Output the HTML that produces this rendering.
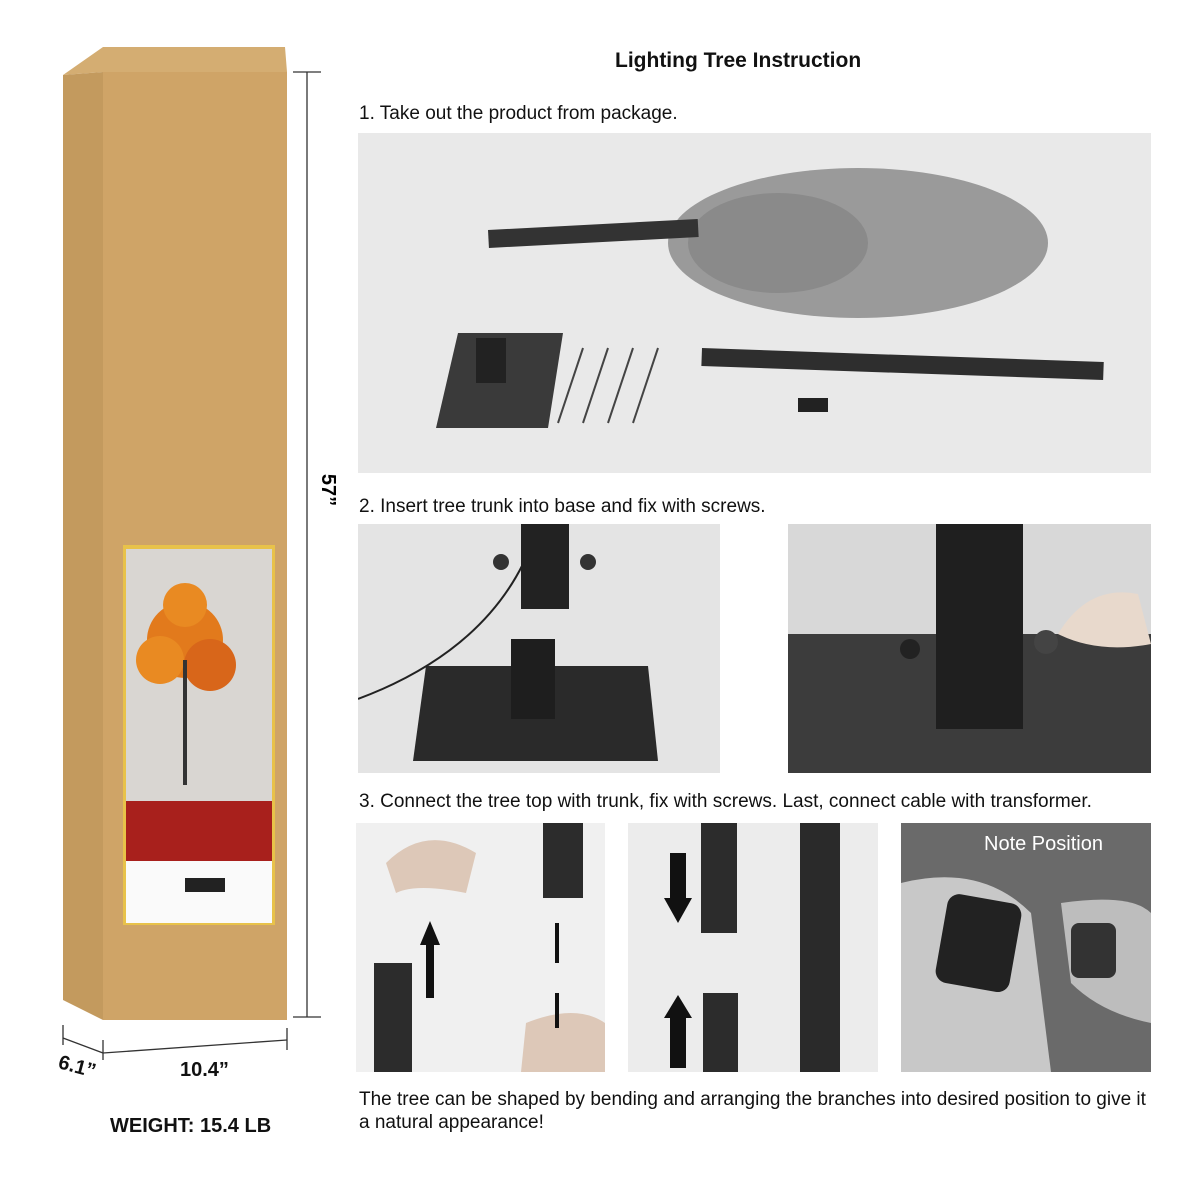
<!DOCTYPE html>
<html><head><meta charset="utf-8"><style>
body{margin:0;width:1200px;height:1200px;background:#fff;position:relative;overflow:hidden;font-family:"Liberation Sans",sans-serif;}
.t{position:absolute;font-size:19px;color:#111;white-space:nowrap}
.p{position:absolute;overflow:hidden}
</style></head><body>
<svg width="1200" height="1200" style="position:absolute;left:0;top:0">
<polygon points="63,75 103,47 285,47 287,72 103,72" fill="#d4ad72"/>
<polygon points="63,75 103,72 103,1020 63,1000" fill="#c39a5e"/>
<rect x="103" y="72" width="184" height="948" fill="#cfa467"/>
<rect x="123" y="545" width="152" height="380" fill="#e8c24a"/>
<rect x="126" y="549" width="146" height="252" fill="#d9d6d2"/>
<circle cx="185" cy="640" r="38" fill="#e27a1c"/>
<circle cx="160" cy="660" r="24" fill="#e98a22"/>
<circle cx="210" cy="665" r="26" fill="#d8661a"/>
<circle cx="185" cy="605" r="22" fill="#e98a22"/>
<rect x="183" y="660" width="4" height="125" fill="#333"/>
<rect x="126" y="801" width="146" height="60" fill="#a8201c"/>
<rect x="126" y="861" width="146" height="62" fill="#fafafa"/>
<rect x="185" y="878" width="40" height="14" fill="#222"/>
<g stroke="#333" stroke-width="1.3" fill="none">
<line x1="307" y1="72" x2="307" y2="1017"/><line x1="293" y1="72" x2="321" y2="72"/><line x1="293" y1="1017" x2="321" y2="1017"/>
<line x1="103" y1="1053" x2="287" y2="1040"/><line x1="103" y1="1040" x2="103" y2="1060"/><line x1="287" y1="1028" x2="287" y2="1050"/>
<line x1="63" y1="1038" x2="103" y2="1053"/><line x1="63" y1="1025" x2="63" y2="1045"/>
</g>
<text x="322" y="490" font-size="20" font-weight="bold" transform="rotate(90 322 490)" font-family="Liberation Sans" text-anchor="middle">57”</text>
</svg>
<div class="t" style="left:180px;top:1059px;font-size:20px;font-weight:bold">10.4”</div>
<div class="t" style="left:58px;top:1056px;font-size:20px;font-weight:bold;transform:rotate(15deg)">6.1”</div>
<div class="t" style="left:110px;top:1115px;font-size:20px;font-weight:bold">WEIGHT: 15.4 LB</div>
<div class="t" style="left:615px;top:49px;font-size:21px;font-weight:bold">Lighting Tree Instruction</div>
<div class="t" style="left:359px;top:103px">1. Take out the product from package.</div>
<div class="p" style="left:358px;top:133px;width:793px;height:340px;background:#e9e9e9">
<svg width="793" height="340"><ellipse cx="500" cy="110" rx="190" ry="75" fill="#9a9a9a"/><ellipse cx="420" cy="110" rx="90" ry="50" fill="#8a8a8a"/>
<rect x="130" y="97" width="210" height="18" fill="#333" transform="rotate(-3 130 97)"/>
<polygon points="100,200 205,200 190,295 78,295" fill="#3a3a3a"/><rect x="118" y="205" width="30" height="45" fill="#222"/>
<g stroke="#444" stroke-width="2"><line x1="225" y1="215" x2="200" y2="290"/><line x1="250" y1="215" x2="225" y2="290"/><line x1="275" y1="215" x2="250" y2="290"/><line x1="300" y1="215" x2="275" y2="290"/></g>
<rect x="344" y="215" width="402" height="18" fill="#2e2e2e" transform="rotate(2 344 215)"/><rect x="440" y="265" width="30" height="14" fill="#222"/></svg></div>
<div class="t" style="left:359px;top:496px">2. Insert tree trunk into base and fix with screws.</div>
<div class="p" style="left:358px;top:524px;width:362px;height:249px;background:#e4e4e4">
<svg width="362" height="249"><rect x="163" y="0" width="48" height="85" fill="#222"/><circle cx="143" cy="38" r="8" fill="#333"/><circle cx="230" cy="38" r="8" fill="#333"/>
<polygon points="68,142 290,142 300,237 55,237" fill="#2a2a2a"/><rect x="153" y="115" width="44" height="80" fill="#1e1e1e"/><path d="M0,175 Q120,130 165,40" stroke="#222" fill="none" stroke-width="2"/></svg></div>
<div class="p" style="left:788px;top:524px;width:363px;height:249px;background:#d8d8d8">
<svg width="363" height="249"><rect x="0" y="110" width="363" height="139" fill="#3c3c3c"/><rect x="148" y="0" width="87" height="205" fill="#1f1f1f"/>
<circle cx="122" cy="125" r="10" fill="#222"/><circle cx="258" cy="118" r="12" fill="#444"/><path d="M270,110 Q300,60 350,70 L363,120 Q310,130 270,110" fill="#e8d9cc"/></svg></div>
<div class="t" style="left:359px;top:791px">3. Connect the tree top with trunk, fix with screws. Last, connect cable with transformer.</div>
<div class="p" style="left:356px;top:823px;width:249px;height:249px;background:#f0f0f0">
<svg width="249" height="249"><rect x="18" y="140" width="38" height="109" fill="#2c2c2c"/><rect x="187" y="0" width="40" height="75" fill="#2c2c2c"/>
<path d="M30,40 Q70,0 120,30 L110,70 Q60,60 40,70Z" fill="#ddc8b8"/><path d="M170,200 Q220,180 249,200 L249,249 L165,249Z" fill="#ddc8b8"/>
<polygon points="74,98 84,122 78,122 78,175 70,175 70,122 64,122" fill="#111"/>
<rect x="199" y="100" width="4" height="40" fill="#111"/><rect x="199" y="170" width="4" height="35" fill="#111"/></svg></div>
<div class="p" style="left:628px;top:823px;width:250px;height:249px;background:#ececec">
<svg width="250" height="249"><rect x="73" y="0" width="36" height="110" fill="#2c2c2c"/><rect x="75" y="170" width="35" height="79" fill="#2c2c2c"/><rect x="172" y="0" width="40" height="249" fill="#2a2a2a"/>
<polygon points="42,30 58,30 58,75 64,75 50,100 36,75 42,75" fill="#111"/><polygon points="42,245 58,245 58,195 64,195 50,172 36,195 42,195" fill="#111"/></svg></div>
<div class="p" style="left:901px;top:823px;width:250px;height:249px;background:#6a6a6a">
<svg width="250" height="249"><path d="M0,60 Q80,40 130,90 L150,249 L0,249Z" fill="#c8c8c8"/><path d="M160,80 Q230,70 250,90 L250,200 Q200,190 170,160Z" fill="#bdbdbd"/>
<rect x="40" y="75" width="75" height="90" rx="12" fill="#222" transform="rotate(10 77 120)"/><rect x="170" y="100" width="45" height="55" rx="8" fill="#333"/></svg>
<div class="t" style="left:83px;top:10px;color:#fff;font-size:20px">Note Position</div></div>
<div class="t" style="left:359px;top:1089px">The tree can be shaped by bending and arranging the branches into desired position to give it</div>
<div class="t" style="left:359px;top:1112px">a natural appearance!</div>
</body></html>
